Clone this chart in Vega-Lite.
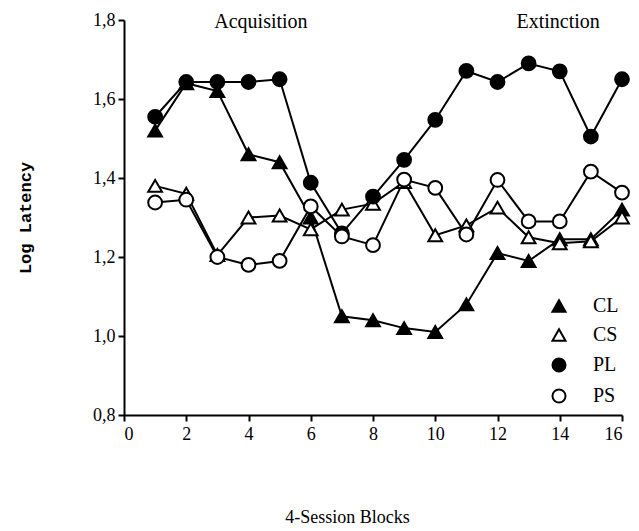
{
  "$schema": "https://vega.github.io/schema/vega-lite/v6.json",
  "width": 498,
  "height": 395,
  "autosize": {"type": "none"},
  "padding": {"left": 124, "top": 20, "right": 17, "bottom": 116},
  "background": "white",
  "config": {
    "view": {"stroke": null},
    "font": "Liberation Serif",
    "text": {"font": "Liberation Serif"},
    "legend": {"labelFont": "Liberation Serif"},
    "axis": {
      "grid": false,
      "domainColor": "black",
      "domainWidth": 2,
      "tickColor": "black",
      "tickWidth": 2,
      "tickSize": 6,
      "labelFont": "Liberation Serif",
      "labelFontSize": 18,
      "labelColor": "black",
      "titleFont": "Liberation Serif"
    }
  },
  "datasets": {
    "series": [
      {"block": 1, "latency": 1.52, "group": "CL"},
      {"block": 2, "latency": 1.64, "group": "CL"},
      {"block": 3, "latency": 1.62, "group": "CL"},
      {"block": 4, "latency": 1.46, "group": "CL"},
      {"block": 5, "latency": 1.44, "group": "CL"},
      {"block": 6, "latency": 1.30, "group": "CL"},
      {"block": 7, "latency": 1.05, "group": "CL"},
      {"block": 8, "latency": 1.04, "group": "CL"},
      {"block": 9, "latency": 1.02, "group": "CL"},
      {"block": 10, "latency": 1.01, "group": "CL"},
      {"block": 11, "latency": 1.08, "group": "CL"},
      {"block": 12, "latency": 1.21, "group": "CL"},
      {"block": 13, "latency": 1.19, "group": "CL"},
      {"block": 14, "latency": 1.245, "group": "CL"},
      {"block": 15, "latency": 1.245, "group": "CL"},
      {"block": 16, "latency": 1.32, "group": "CL"},
      {"block": 1, "latency": 1.38, "group": "CS"},
      {"block": 2, "latency": 1.36, "group": "CS"},
      {"block": 3, "latency": 1.205, "group": "CS"},
      {"block": 4, "latency": 1.30, "group": "CS"},
      {"block": 5, "latency": 1.305, "group": "CS"},
      {"block": 6, "latency": 1.27, "group": "CS"},
      {"block": 7, "latency": 1.32, "group": "CS"},
      {"block": 8, "latency": 1.335, "group": "CS"},
      {"block": 9, "latency": 1.39, "group": "CS"},
      {"block": 10, "latency": 1.255, "group": "CS"},
      {"block": 11, "latency": 1.28, "group": "CS"},
      {"block": 12, "latency": 1.325, "group": "CS"},
      {"block": 13, "latency": 1.25, "group": "CS"},
      {"block": 14, "latency": 1.235, "group": "CS"},
      {"block": 15, "latency": 1.24, "group": "CS"},
      {"block": 16, "latency": 1.30, "group": "CS"},
      {"block": 1, "latency": 1.555, "group": "PL"},
      {"block": 2, "latency": 1.643, "group": "PL"},
      {"block": 3, "latency": 1.643, "group": "PL"},
      {"block": 4, "latency": 1.643, "group": "PL"},
      {"block": 5, "latency": 1.65, "group": "PL"},
      {"block": 6, "latency": 1.388, "group": "PL"},
      {"block": 7, "latency": 1.26, "group": "PL"},
      {"block": 8, "latency": 1.353, "group": "PL"},
      {"block": 9, "latency": 1.446, "group": "PL"},
      {"block": 10, "latency": 1.547, "group": "PL"},
      {"block": 11, "latency": 1.671, "group": "PL"},
      {"block": 12, "latency": 1.643, "group": "PL"},
      {"block": 13, "latency": 1.69, "group": "PL"},
      {"block": 14, "latency": 1.67, "group": "PL"},
      {"block": 15, "latency": 1.505, "group": "PL"},
      {"block": 16, "latency": 1.65, "group": "PL"},
      {"block": 1, "latency": 1.338, "group": "PS"},
      {"block": 2, "latency": 1.345, "group": "PS"},
      {"block": 3, "latency": 1.20, "group": "PS"},
      {"block": 4, "latency": 1.18, "group": "PS"},
      {"block": 5, "latency": 1.19, "group": "PS"},
      {"block": 6, "latency": 1.328, "group": "PS"},
      {"block": 7, "latency": 1.252, "group": "PS"},
      {"block": 8, "latency": 1.23, "group": "PS"},
      {"block": 9, "latency": 1.396, "group": "PS"},
      {"block": 10, "latency": 1.375, "group": "PS"},
      {"block": 11, "latency": 1.257, "group": "PS"},
      {"block": 12, "latency": 1.395, "group": "PS"},
      {"block": 13, "latency": 1.29, "group": "PS"},
      {"block": 14, "latency": 1.29, "group": "PS"},
      {"block": 15, "latency": 1.416, "group": "PS"},
      {"block": 16, "latency": 1.363, "group": "PS"}
    ],
    "notes": [
      {"block": 4.4, "latency": 1.795, "label": "Acquisition"},
      {"block": 13.95, "latency": 1.795, "label": "Extinction"}
    ]
  },
  "layer": [
    {
      "data": {"name": "series"},
      "mark": {"type": "line", "color": "black", "strokeWidth": 2},
      "encoding": {
        "x": {
          "field": "block", "type": "quantitative",
          "scale": {"domain": [0, 16], "nice": false},
          "axis": {
            "values": [0, 2, 4, 6, 8, 10, 12, 14, 16],
            "labelFont": "Liberation Serif",
            "labelFontSize": 18,
            "title": "4-Session Blocks",
            "titleFont": "Liberation Serif",
            "titleFontSize": 18,
            "titleFontWeight": "normal",
            "titleColor": "black",
            "titleX": 223,
            "titleY": 102,
            "titleBaseline": "middle",
            "labelPadding": 4
          }
        },
        "y": {
          "field": "latency", "type": "quantitative",
          "scale": {"domain": [0.8, 1.8], "nice": false, "zero": false},
          "axis": {
            "values": [0.8, 1.0, 1.2, 1.4, 1.6, 1.8],
            "labelExpr": "replace(format(datum.value, '.1f'), '.', ',')",
            "labelFont": "Liberation Serif",
            "labelFontSize": 18,
            "title": "Log Latency",
            "titleFont": "Liberation Mono",
            "titleFontSize": 17,
            "titleFontWeight": "bold",
            "titleColor": "black",
            "titlePadding": 58,
            "labelPadding": 3
          }
        },
        "detail": {"field": "group"}
      }
    },
    {
      "data": {"name": "series"},
      "mark": {"type": "point", "stroke": "black", "strokeWidth": 2, "opacity": 1, "filled": false},
      "encoding": {
        "x": {"field": "block", "type": "quantitative"},
        "y": {"field": "latency", "type": "quantitative"},
        "shape": {
          "field": "group", "type": "nominal",
          "scale": {"domain": ["CL", "CS", "PL", "PS"], "range": ["triangle-up", "triangle-up", "circle", "circle"]},
          "legend": {
            "title": null,
            "orient": "none",
            "legendX": 425,
            "legendY": 276,
            "labelFont": "Liberation Serif",
            "labelFontSize": 20,
            "labelColor": "black",
            "symbolSize": 170,
            "symbolStrokeWidth": 2,
            "rowPadding": 9,
            "labelOffset": 24
          }
        },
        "fill": {
          "field": "group", "type": "nominal",
          "scale": {"domain": ["CL", "CS", "PL", "PS"], "range": ["black", "white", "black", "white"]},
          "legend": {
            "title": null,
            "orient": "none",
            "legendX": 425,
            "legendY": 276,
            "labelFont": "Liberation Serif",
            "labelFontSize": 20,
            "labelColor": "black",
            "symbolSize": 170,
            "symbolStrokeWidth": 2,
            "rowPadding": 9,
            "labelOffset": 24
          }
        },
        "size": {"value": 190}
      }
    },
    {
      "data": {"name": "notes"},
      "mark": {"type": "text", "font": "Liberation Serif", "fontSize": 20, "color": "black", "baseline": "middle", "align": "center"},
      "encoding": {
        "x": {"field": "block", "type": "quantitative"},
        "y": {"field": "latency", "type": "quantitative"},
        "text": {"field": "label"}
      }
    }
  ]
}
